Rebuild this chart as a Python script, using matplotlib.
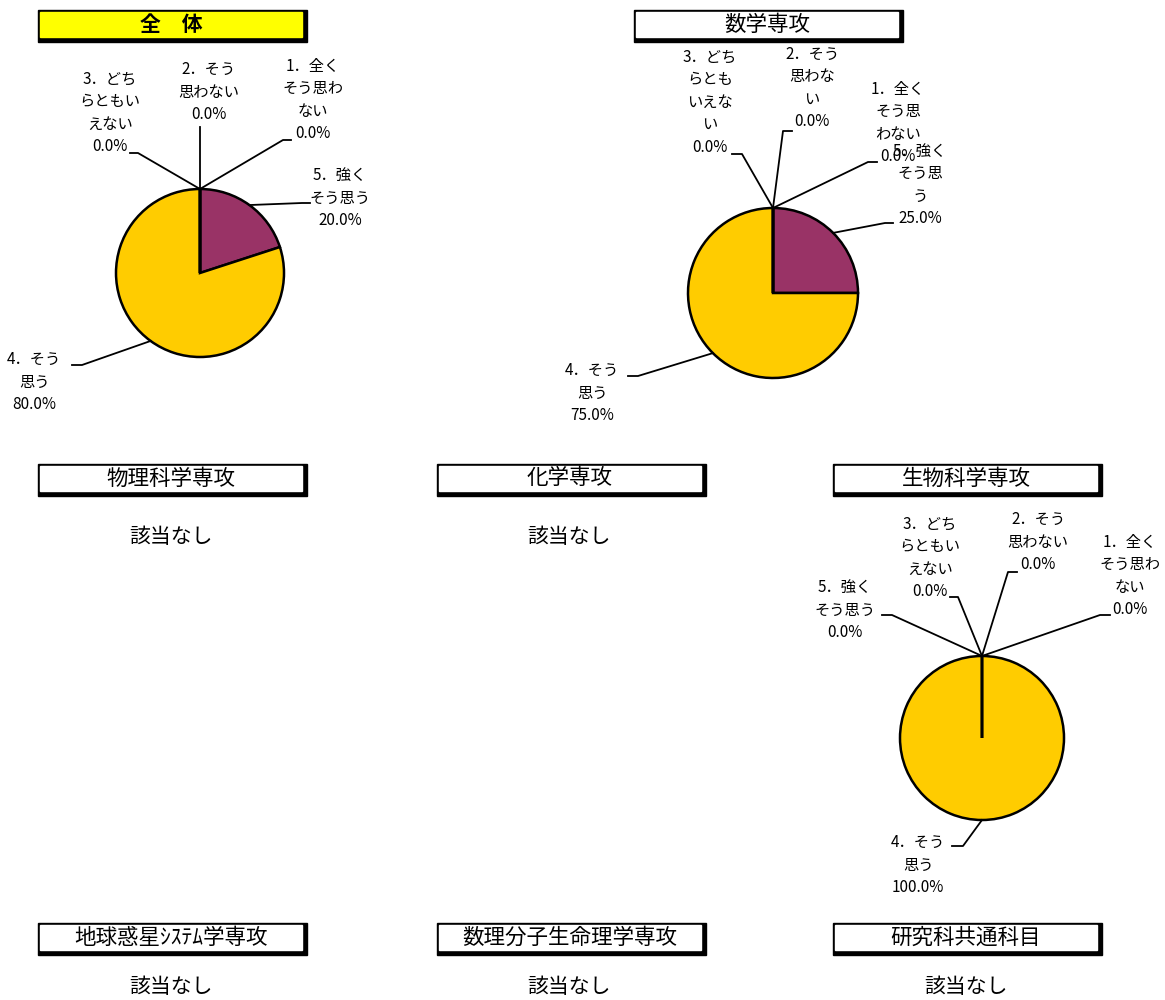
import numpy as np
import matplotlib
matplotlib.use('Agg')
import matplotlib.pyplot as plt
from matplotlib.patches import Rectangle

plt.rcParams['font.family'] = ['Noto Sans CJK JP', 'DejaVu Sans']

# 回答区分（円の描画順：上から時計回り）
categories = ['5．強くそう思う', '4．そう思う', '3．どちらともいえない', '2．そう思わない', '1．全くそう思わない']
slice_colors = ['#993366', '#FFCC00', '#FFFFCC', '#CCFFFF', '#660066']

# 各専攻の割合 (%)
zentai_values = [20.0, 80.0, 0.0, 0.0, 0.0]
suugaku_values = [25.0, 75.0, 0.0, 0.0, 0.0]
seibutsu_values = [0.0, 100.0, 0.0, 0.0, 0.0]

# ラベルの改行位置（グラフごとに違う）
zentai_wrap = ['5．強く\nそう思う', '4．そう\n思う', '3．どち\nらともい\nえない', '2．そう\n思わない', '1．全く\nそう思わ\nない']
suugaku_wrap = ['5．強く\nそう思\nう', '4．そう\n思う', '3．どち\nらとも\nいえな\nい', '2．そう\n思わな\nい', '1．全く\nそう思\nわない']
seibutsu_wrap = ['5．強く\nそう思う', '4．そう\n思う', '3．どち\nらともい\nえない', '2．そう\n思わない', '1．全く\nそう思わ\nない']

titles = ['全　体', '数学専攻', '物理科学専攻', '化学専攻', '生物科学専攻',
          '地球惑星ｼｽﾃﾑ学専攻', '数理分子生命理学専攻', '研究科共通科目']
no_data = '該当なし'

W, H = 1165, 1000


def Y(py):
    # ピクセル座標(上から)をデータ座標(下から)に変換
    return H - py


fig = plt.figure(figsize=(W / 100, H / 100), dpi=100)
ax = fig.add_axes([0, 0, 1, 1])


def title_box(x0, y0, x1, y1, text, face='white', bold=False, size=15.5):
    ax.add_patch(Rectangle((x0, Y(y1)), x1 - x0, y1 - y0, color='black', zorder=3))
    ax.add_patch(Rectangle((x0 + 2, Y(y1 - 5)), x1 - x0 - 7, y1 - y0 - 7, color=face, zorder=4))
    ax.text((x0 + x1 - 3) / 2, Y((y0 + y1 - 3) / 2), text, ha='center', va='center',
            fontsize=size, fontweight='bold' if bold else 'normal', zorder=5)


def pie_chart(cx, cy, r, values, wraps, layout):
    wedges, _ = ax.pie(values, colors=slice_colors, startangle=90, counterclock=False,
                       center=(cx, Y(cy)), radius=r,
                       wedgeprops=dict(edgecolor='black', linewidth=1.8))
    for w, v, txt, (tx, ty, lx, ly, dx) in zip(wedges, values, wraps, layout):
        ang = np.deg2rad((w.theta1 + w.theta2) / 2)
        ex, ey = cx + r * np.cos(ang), Y(cy) + r * np.sin(ang)
        ax.plot([ex, lx, lx + dx], [ey, Y(ly), Y(ly)], color='black', lw=1.3, zorder=2)
        ax.text(tx, Y(ty), f'{txt}\n{v:.1f}%', ha='center', va='center',
                fontsize=11, linespacing=1.43, zorder=3)


# ラベル位置: (文字中心x, 文字中心y, 引出線の折れ点x, y, 水平部分の長さ)
zentai_layout = [(340, 198, 302, 203, 8), (34, 382, 82, 365, -10), (110, 113, 138, 153, -8),
                 (209, 92, 200, 127, 0), (313, 100, 283, 140, 8)]
suugaku_layout = [(920, 185, 885, 223, 8), (592, 393, 638, 376, -10), (710, 102, 742, 154, -10),
                  (812, 88, 783, 131, 9), (898, 123, 868, 162, 9)]
seibutsu_layout = [(845, 610, 892, 615, -10), (918, 865, 963, 846, -11), (930, 558, 958, 597, -8),
                   (1038, 542, 1008, 572, 9), (1130, 576, 1100, 615, 10)]

pie_chart(200, 273, 84, zentai_values, zentai_wrap, zentai_layout)
pie_chart(773, 293, 85, suugaku_values, suugaku_wrap, suugaku_layout)
pie_chart(982, 738, 82, seibutsu_values, seibutsu_wrap, seibutsu_layout)

# タイトル枠
title_box(38, 10, 307, 42, titles[0], face='#FFFF00', bold=True, size=15)
title_box(634, 10, 903, 42, titles[1])
title_box(38, 464, 307, 496, titles[2])
title_box(437, 464, 706, 496, titles[3])
title_box(833, 464, 1102, 496, titles[4])
title_box(38, 923, 307, 955, titles[5])
title_box(437, 923, 706, 955, titles[6])
title_box(833, 923, 1102, 955, titles[7])

# 該当なし
for x, y in [(171, 537), (569, 537), (171, 987), (569, 987), (966, 987)]:
    ax.text(x, Y(y), no_data, ha='center', va='center', fontsize=15)

ax.set_xlim(0, W)
ax.set_ylim(0, H)
ax.set_aspect('equal')
ax.axis('off')

fig.savefig('out.png', dpi=100, facecolor='white')
